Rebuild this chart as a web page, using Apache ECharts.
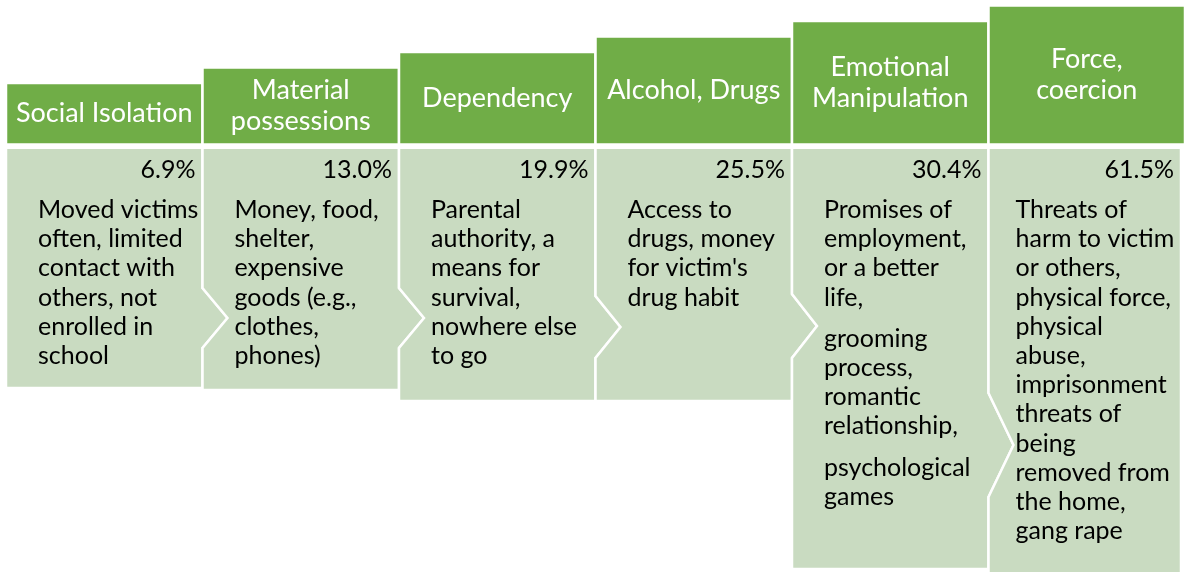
<!DOCTYPE html>
<html>
<head>
<meta charset="utf-8">
<title>Means of control</title>
<script src="https://cdn.jsdelivr.net/npm/echarts@6/dist/echarts.min.js"></script>
<style>
  html, body { margin: 0; padding: 0; background: #fff; }
  #chart { width: 1185px; height: 572px; }
</style>
</head>
<body>
<div id="chart"></div>
<script>
// data
const categories = ['Social Isolation', 'Material\npossessions', 'Dependency', 'Alcohol, Drugs', 'Emotional\nManipulation', 'Force,\ncoercion'];
const shares = [6.9, 13.0, 19.9, 25.5, 30.4, 61.5];
const details = [
  [['Moved victims', 'often, limited', 'contact with', 'others, not', 'enrolled in', 'school']],
  [['Money, food,', 'shelter,', 'expensive', 'goods (e.g.,', 'clothes,', 'phones)']],
  [['Parental', 'authority, a', 'means for', 'survival,', 'nowhere else', 'to go']],
  [['Access to', 'drugs, money', "for victim's", 'drug habit']],
  [['Promises of', 'employment,', 'or a better', 'life,'], ['grooming', 'process,', 'romantic', 'relationship,'], ['psychological', 'games']],
  [['Threats of', 'harm to victim', 'or others,', 'physical force,', 'physical', 'abuse,', 'imprisonment', 'threats of', 'being', 'removed from', 'the home,', 'gang rape']]
];

// layout (y axis runs top-down, in px-like units)
const HEAD_TOP0 = 83, HEAD_STEP = 15.5, HEAD_BOTTOM = 144.5;
const BODY_TOP = 147.75;
const BODY_BOTTOM = [388, 390, 401, 401, 569, 580];
const ARROW_MID = [318, 318, 327, 326, 445];
const ARROW_HALF = [30, 30, 31, 32, 52];
const ARROW_DEPTH = 25;
const LINE_H = 29.2, PARA_GAP = 12, FIRST_LINE = 210;

const DARK = '#70AD47', LIGHT = '#C9DBC1';
const FONT = 'Lato, "Open Sans", sans-serif';

function renderStep(params, api) {
  const i = api.value(0);
  const n = categories.length;
  const band = api.size([1, 0])[0];
  const cx = api.coord([i, 0])[0];
  const x0 = cx - band / 2, x1 = cx + band / 2;
  const right = i === n - 1 ? x1 - 4 : x1;
  const inset = i === n - 1 ? 27 : 32;
  const y = v => api.coord([i, v])[1];

  const hTop = y(HEAD_TOP0 - HEAD_STEP * i), hBot = y(HEAD_BOTTOM);
  const bTop = y(BODY_TOP), bBot = y(BODY_BOTTOM[i]);

  const pts = [[x0, bTop], [right, bTop]];
  if (i < n - 1) {
    const m = y(ARROW_MID[i]), h = ARROW_HALF[i];
    pts.push([x1, m - h], [x1 + ARROW_DEPTH, m], [x1, m + h]);
  }
  pts.push([right, bBot], [x0, bBot]);
  if (i > 0) {
    const m = y(ARROW_MID[i - 1]), h = ARROW_HALF[i - 1];
    pts.push([x0, m + h], [x0 + ARROW_DEPTH, m], [x0, m - h]);
  }

  const children = [
    {
      type: 'rect',
      shape: { x: x0, y: hTop, width: x1 - x0, height: hBot - hTop },
      style: { fill: DARK, stroke: '#fff', lineWidth: 2.5 }
    },
    {
      type: 'text',
      style: {
        text: categories[i], x: cx, y: (hTop + hBot) / 2,
        align: 'center', verticalAlign: 'middle',
        fill: '#fff', font: '27px ' + FONT, lineHeight: 31
      }
    },
    {
      type: 'polygon',
      shape: { points: pts },
      style: { fill: LIGHT, stroke: '#fff', lineWidth: 2.5 }
    },
    {
      type: 'text',
      style: {
        text: shares[i].toFixed(1) + '%', x: right - 7, y: y(170),
        align: 'right', verticalAlign: 'middle',
        fill: '#000', font: '25px ' + FONT
      }
    }
  ];

  let ly = FIRST_LINE;
  details[i].forEach((para, p) => {
    if (p > 0) ly += PARA_GAP;
    para.forEach(line => {
      children.push({
        type: 'text',
        style: {
          text: line, x: x0 + inset, y: y(ly),
          align: 'left', verticalAlign: 'middle',
          fill: '#000', font: '25px ' + FONT
        }
      });
      ly += LINE_H;
    });
  });

  return { type: 'group', children };
}

const chart = echarts.init(document.getElementById('chart'));
chart.setOption({
  animation: false,
  grid: { left: 6, right: -3, top: 0, bottom: 0 },
  xAxis: { type: 'category', data: categories, show: false },
  yAxis: { type: 'value', min: 0, max: 572, inverse: true, show: false },
  series: [{
    type: 'custom',
    silent: true,
    renderItem: renderStep,
    data: categories.map((c, i) => [i, shares[i]])
  }]
});
</script>
</body>
</html>
